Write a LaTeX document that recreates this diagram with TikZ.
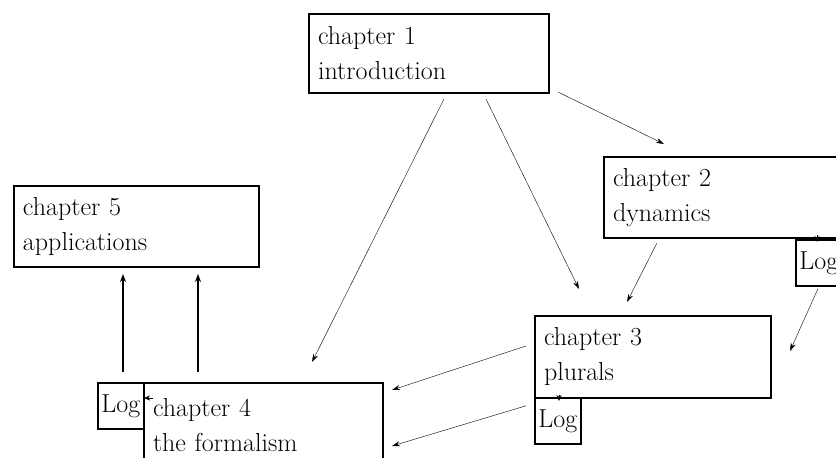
\documentclass[tikz,border=0pt]{standalone}
\usetikzlibrary{arrows.meta}
\tikzset{
  chapbox/.style={draw, line width=2pt, anchor=north west, align=left,
    inner xsep=9pt, inner ysep=2pt, font=\fontsize{26}{35}\selectfont},
  logbox/.style={draw, line width=1.6pt, anchor=north west, inner xsep=2pt,
    minimum width=46pt, minimum height=46pt, font=\fontsize{26}{35}\selectfont},
  link/.style={thin, -{Stealth[length=8pt,width=5pt]}},
  tick/.style={thin, -{Stealth[length=6pt,width=5pt]}},
  uplink/.style={line width=2pt, -{Stealth[length=8pt,width=6pt]}},
}
\begin{document}
\begin{tikzpicture}[x=1pt, y=-1pt]
    \useasboundingbox (0,0) rectangle (836,458);
    \clip (0,0) rectangle (836,458);
    % chapters
    \node[chapbox, text width=222pt, minimum height=79pt] (ch1) at (308,13) {chapter 1\\introduction};
    \node[chapbox, text width=242pt, minimum height=81pt] (ch2) at (603,156) {chapter 2\\dynamics};
    \node[chapbox, text width=218pt, minimum height=82pt] (ch3) at (534,315) {chapter 3\\plurals};
    \node[chapbox, text width=221pt, minimum height=84pt] (ch4) at (143,382) {chapter 4\\the formalism};
    \node[chapbox, text width=227pt, minimum height=81pt] (ch5) at (13,185) {chapter 5\\applications};
    % logic boxes
    \node[logbox] (log2) at (795,239) {Log};
    \node[logbox] (log3) at (534,397) {Log};
    \node[logbox] (log4) at (97,382) {Log};
    % from chapter 1
    \draw[link] ([xshift=136pt,yshift=-5pt]ch1.south west) -- ([xshift=169pt,yshift=20pt]ch4.north west);
    \draw[link] ([xshift=178pt,yshift=-5pt]ch1.south west) -- ([xshift=45pt,yshift=26pt]ch3.north west);
    \draw[link] ([xshift=8pt,yshift=2pt]ch1.south east) -- ([xshift=61pt,yshift=12pt]ch2.north west);
    % from chapter 2
    \draw[link] ([xshift=54pt,yshift=-4pt]ch2.south west) -- ([xshift=93pt,yshift=13pt]ch3.north west);
    \draw[link] ([xshift=23pt,yshift=-2pt]log2.south west) -- ([xshift=18pt,yshift=6pt]ch3.east);
    % from chapter 3
    \draw[link] ([xshift=-8pt,yshift=11pt]ch3.west) -- ([xshift=8pt,yshift=-8pt]ch4.north east);
    \draw[link] ([xshift=-8pt,yshift=15pt]log3.west) -- ([xshift=8pt,yshift=-64pt]ch4.north east);
    % into the logic boxes
    \draw[tick] ([xshift=214pt,yshift=4pt]ch2.south west) -- ([xshift=22pt,yshift=-3pt]log2.north west);
    \draw[tick] ([xshift=25pt,yshift=4pt]ch3.south west) -- ([xshift=25pt,yshift=-4pt]log3.north west);
    \draw[tick] ([xshift=10pt,yshift=-16pt]ch4.north west) -- ([xshift=1pt,yshift=-16pt]ch4.north west);
    % up to chapter 5
    \draw[uplink] ([xshift=26pt,yshift=10pt]log4.north west) -- ([xshift=110pt,yshift=-6pt]ch5.south west);
    \draw[uplink] ([xshift=55pt,yshift=10pt]ch4.north west) -- ([xshift=185pt,yshift=-6pt]ch5.south west);
\end{tikzpicture}
\end{document}
